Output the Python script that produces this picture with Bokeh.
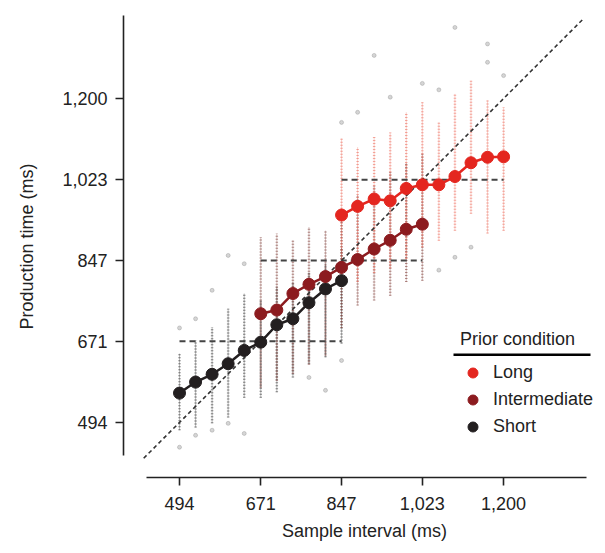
from bokeh.plotting import figure
from bokeh.models import (FixedTicker, Legend, LegendItem, BoxAnnotation)
from bokeh.embed import file_html
from bokeh.resources import INLINE
from bokeh.core.enums import CoordinateUnits

# ---------------- data ----------------
tick_values = [494, 671, 847, 1023, 1200]
tick_labels = ["494", "671", "847", "1,023", "1,200"]

short_x = [494, 529, 565, 600, 635, 671, 706, 741, 776, 812, 847]
inter_x = [671, 706, 741, 776, 812, 847, 882, 918, 953, 988, 1023]
long_x = [847, 882, 918, 953, 988, 1023, 1059, 1094, 1129, 1165, 1200]

short_y = [558, 582, 599, 622, 651, 669, 707, 720, 755, 785, 803]
inter_y = [731, 739, 775, 795, 812, 832, 849, 872, 891, 915, 926]
long_y = [946, 965, 981, 977, 1004, 1012, 1012, 1030, 1060, 1072, 1073]

# spread of single-trial production times (visible range of each column)
short_lo = [477, 483, 492, 505, 548, 548, 560, 592, 622, 636, 666]
short_hi = [644, 673, 702, 742, 775, 760, 790, 800, 820, 840, 875]
inter_lo = [570, 585, 600, 620, 640, 700, 749, 760, 770, 800, 803]
inter_hi = [898, 906, 891, 920, 912, 960, 990, 1010, 1040, 1060, 1080]
long_lo = [790, 800, 820, 830, 850, 876, 890, 912, 949, 906, 912]
long_hi = [1113, 1094, 1116, 1126, 1170, 1192, 1148, 1210, 1239, 1196, 1181]

# isolated trials outside the main columns
out_x = [1094, 1165, 1165, 1200, 953, 1023, 1059, 918, 882, 847, 1129, 1094,
         1059, 600, 635, 565, 529, 494, 494, 529, 565, 600, 635, 812, 776, 847]
out_y = [1355, 1319, 1279, 1250, 1203, 1233, 1219, 1294, 1170, 1148, 876, 854,
         826, 858, 840, 782, 720, 700, 440, 466, 477, 492, 470, 564, 592, 629]

# prior means (horizontal dashed) : x-start, x-end, level
prior_x0 = [494, 671, 847]
prior_x1 = [847, 1023, 1200]
prior_y = [671, 847, 1023]

unity = [416, 1374]
axis_bounds = (422, 1381)

col_long = "#e4261f"
col_inter = "#8c1b1f"
col_short = "#231f20"
strip_long = "#ec6a5a"
strip_inter = "#7a3430"
strip_short = "#2a2a2a"

FONT = "Liberation Sans"

p = figure(width=605, height=553, x_range=(372, 1422), y_range=(374, 1381),
           output_backend="svg", toolbar_location=None,
           min_border_left=123, min_border_right=0,
           min_border_top=15, min_border_bottom=76)
p.outline_line_color = None
p.xgrid.visible = False
p.ygrid.visible = False
p.background_fill_color = "white"

for ax in (p.xaxis[0], p.yaxis[0]):
    ax.ticker = FixedTicker(ticks=tick_values)
    ax.major_label_overrides = {v: l for v, l in zip(tick_values, tick_labels)}
    ax.bounds = axis_bounds
    ax.axis_line_width = 1.6
    ax.axis_line_color = "#222222"
    ax.major_tick_line_color = "#222222"
    ax.major_tick_line_width = 1.6
    ax.major_tick_out = 8
    ax.major_tick_in = 0
    ax.minor_tick_line_color = None
    ax.major_label_text_font = FONT
    ax.major_label_text_font_size = "18px"
    ax.major_label_text_color = "#222222"
    ax.axis_label_text_font = FONT
    ax.axis_label_text_font_size = "18px"
    ax.axis_label_text_font_style = "normal"
    ax.axis_label_text_color = "#222222"

p.xaxis.axis_label = "Sample interval (ms)"
p.yaxis.axis_label = "Production time (ms)"
p.xaxis.major_label_standoff = 11
p.xaxis.axis_label_standoff = 8
p.yaxis.major_label_standoff = 8
p.yaxis.axis_label_standoff = 22

# trial columns
for xs, lo, hi, c in ((short_x, short_lo, short_hi, strip_short),
                      (inter_x, inter_lo, inter_hi, strip_inter),
                      (long_x, long_lo, long_hi, strip_long)):
    p.segment(x0=xs, y0=lo, x1=xs, y1=hi, line_color=c, line_width=2.5,
              line_alpha=0.55, line_dash="1 2")
    p.segment(x0=xs, y0=lo, x1=xs, y1=hi, line_color=c, line_width=1,
              line_alpha=0.3)

p.scatter(out_x, out_y, size=4, color="#888888", alpha=0.35)

# prior means
p.segment(x0=prior_x0, y0=prior_y, x1=prior_x1, y1=prior_y,
          line_color="#444444", line_width=2, line_dash="6 4")
# unity line
p.line(unity, unity, line_color="#333333", line_width=1.6, line_dash="4 3")

rends = {}
for name, xs, ys, c in (("Short", short_x, short_y, col_short),
                        ("Intermediate", inter_x, inter_y, col_inter),
                        ("Long", long_x, long_y, col_long)):
    p.line(xs, ys, line_color=c, line_width=2.5)
    rends[name] = p.scatter(xs, ys, size=12, fill_color=c, line_color=c)

legend = Legend(items=[LegendItem(label="Long", renderers=[rends["Long"]]),
                       LegendItem(label="Intermediate", renderers=[rends["Intermediate"]]),
                       LegendItem(label="Short", renderers=[rends["Short"]])],
                location=(337, 38), title="Prior condition",
                padding=0, margin=0, spacing=2,
                glyph_width=25, glyph_height=25, label_standoff=8,
                label_text_font=FONT, label_text_font_size="18px",
                label_text_color="#222222",
                title_text_font=FONT, title_text_font_size="18px",
                title_text_font_style="normal", title_text_color="#222222",
                title_standoff=10,
                background_fill_alpha=0, border_line_color=None)
p.add_layout(legend, "center")

units = "canvas" if "canvas" in CoordinateUnits else "screen"
underline = BoxAnnotation(left=453, right=590, top=353, bottom=355.5,
                          left_units=units, right_units=units,
                          top_units=units, bottom_units=units,
                          fill_color="black", fill_alpha=1, line_color=None)
p.add_layout(underline)

open("out.html", "w").write(file_html(p, INLINE))
